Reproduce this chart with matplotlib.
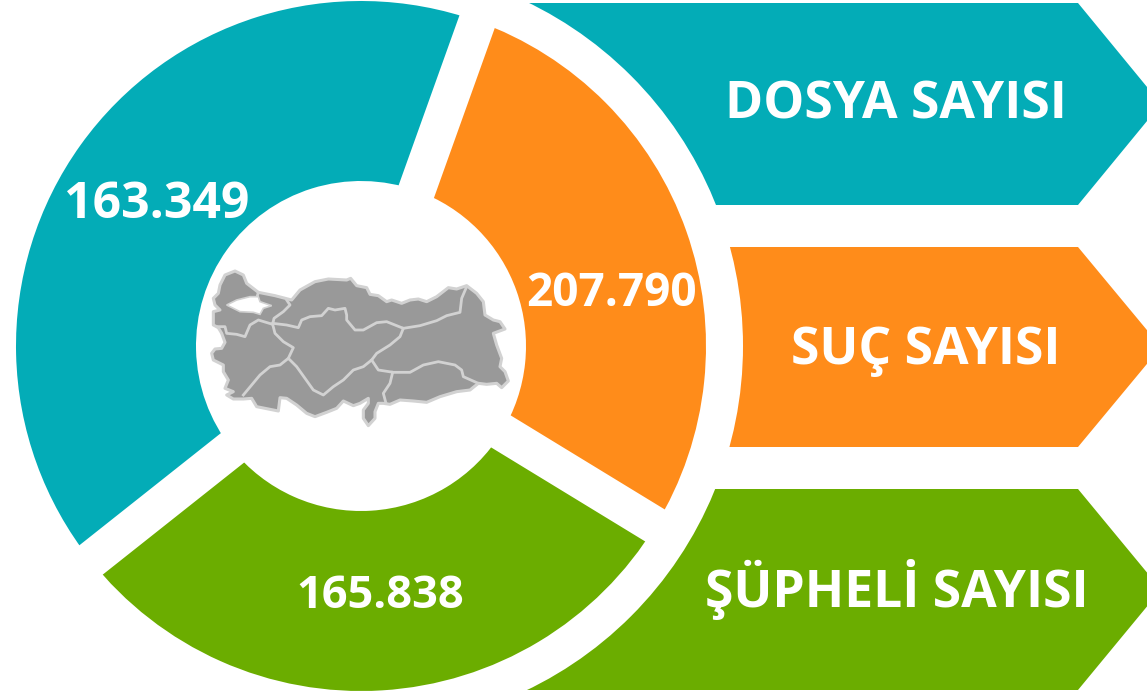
import matplotlib
matplotlib.use("Agg")
import matplotlib.pyplot as plt
import numpy as np
from matplotlib.patches import Circle, Polygon

plt.rcParams["font.family"] = ["Open Sans", "DejaVu Sans"]

# labels and values as printed on the picture
categories = ["DOSYA SAYISI", "ŞÜPHELİ SAYISI", "SUÇ SAYISI"]
value_labels = ["163.349", "165.838", "207.790"]
# arc of each slice in degrees, the slices are not drawn in proportion to the values
slice_spans = [148.1, 110.2, 101.7]
colors = ["#03ACB7", "#6BAD00", "#FF8C1A"]

# x centre, baseline y, font size
value_pos = [(156.5, 218, 36), (380, 608, 32.5), (612, 306, 33)]
title_pos = [(896, 118, 37.2), (897, 607, 37.2), (926, 364, 37.2)]
arrow_y = [(3, 205), (489, 690), (247, 447)]
arrow_left = [450, 450, 600]

CX, CY = 361, 346
R_OUT, R_IN = 345, 165
R_GAP = 382

# outline of Turkey, traced in px of a 3x crop
map_outline = [(75, 60), (105, 48), (130, 60), (140, 85), (175, 112), (225, 122), (275, 135), (300, 105),
               (345, 80), (385, 72), (440, 75), (452, 70), (470, 92), (500, 98), (510, 118), (535, 122),
               (560, 140), (575, 135), (605, 145), (630, 135), (655, 132), (680, 140), (710, 125), (745, 98),
               (770, 102), (800, 92), (830, 115), (850, 140), (855, 180), (880, 195), (900, 200), (915, 222),
               (880, 235), (890, 270), (905, 310), (900, 335), (915, 350), (925, 378), (905, 398), (890, 385),
               (860, 388), (835, 385), (810, 405), (770, 410), (720, 425), (680, 442), (640, 438), (600, 435),
               (570, 448), (550, 445), (535, 445), (525, 470), (525, 490), (505, 512), (490, 490), (490, 465),
               (505, 445), (505, 430), (480, 445), (460, 452), (430, 438), (410, 460), (380, 472), (345, 485),
               (320, 475), (290, 450), (260, 430), (240, 428), (235, 468), (205, 462), (170, 455), (155, 430),
               (130, 432), (100, 432), (80, 420), (100, 410), (75, 400), (85, 375), (70, 350), (70, 330),
               (40, 315), (35, 295), (45, 282), (65, 280), (75, 262), (65, 235), (55, 218), (40, 210),
               (40, 170), (60, 165), (45, 150), (40, 130), (55, 115), (60, 90)]
marmara = [(80, 150), (110, 135), (150, 125), (175, 125), (180, 140), (215, 152), (190, 160), (180, 178),
           (160, 172), (120, 170), (100, 160)]
map_borders = [
    [(260, 135), (270, 150), (250, 170), (222, 190), (218, 208), (225, 235), (250, 260), (280, 278), (265, 310)],
    [(218, 205), (260, 210), (295, 218), (305, 195), (330, 185), (365, 182), (385, 160), (405, 165), (435, 160),
     (440, 180), (440, 195), (465, 225), (490, 225), (530, 203), (560, 200), (610, 220), (660, 212), (710, 197),
     (740, 182), (780, 172), (785, 130), (800, 95)],
    [(610, 220), (600, 245), (570, 270), (530, 295), (515, 315), (490, 335), (460, 345), (430, 375), (400, 395),
     (370, 420), (340, 405), (315, 370), (290, 335), (265, 310), (240, 330), (210, 335), (180, 360), (130, 420)],
    [(515, 315), (535, 345), (580, 352), (630, 352), (670, 330), (715, 320), (765, 330), (785, 345), (790, 365),
     (835, 385)],
    [(578, 352), (570, 385), (550, 415), (558, 445)],
    [(218, 208), (175, 195), (150, 210), (135, 245), (110, 238), (80, 235), (75, 215), (55, 215)],
    [(175, 112), (170, 130)],
]


def map_xy(pts):
    return [(200 + x / 3, 255 + y / 3) for x, y in pts]


fig = plt.figure(figsize=(11.47, 6.94), dpi=100)
ax = fig.add_axes([0, 0, 1, 1])

# arrows, the white disc cuts their left side
for (y0, y1), left, c in zip(arrow_y, arrow_left, colors):
    pts = [(left, y0), (1078, y0), (1161, (y0 + y1) / 2), (1078, y1), (left, y1)]
    ax.add_patch(Polygon(pts, closed=True, facecolor=c, edgecolor="none", zorder=1))
ax.add_patch(Circle((CX, CY), R_GAP, facecolor="white", edgecolor="none", zorder=2))

# y axis is inverted so the slices run clockwise in data terms
wedges, _ = ax.pie(slice_spans, colors=colors, startangle=-70.3, counterclock=False,
                   radius=R_OUT, center=(CX, CY),
                   wedgeprops=dict(width=R_OUT - R_IN, edgecolor="none", zorder=3))

# white gaps between the slices
for a in -70.3 - np.cumsum([0] + slice_spans[:-1]):
    t = np.deg2rad(a)
    ax.plot([CX + 120 * np.cos(t), CX + 365 * np.cos(t)], [CY + 120 * np.sin(t), CY + 365 * np.sin(t)],
            color="white", lw=27, solid_capstyle="butt", zorder=4)

# map
ax.add_patch(Polygon(map_xy(map_outline), closed=True, facecolor="#999999", edgecolor="#d2d2d2", lw=2.2,
                     joinstyle="round", zorder=5))
for line in map_borders:
    xy = np.array(map_xy(line))
    ax.plot(xy[:, 0], xy[:, 1], color="#d2d2d2", lw=2.0, solid_joinstyle="round", zorder=6)
ax.add_patch(Polygon(map_xy(marmara), closed=True, facecolor="white", edgecolor="#d2d2d2", lw=1.2, zorder=7))

for (x, y, size), s in zip(value_pos, value_labels):
    ax.text(x, y, s, color="white", fontsize=size, fontweight="bold", ha="center", va="baseline", zorder=8)
for (x, y, size), s in zip(title_pos, categories):
    ax.text(x, y, s, color="white", fontsize=size, fontweight="bold", ha="center", va="baseline", zorder=8)

ax.set_aspect("equal")
ax.set_xlim(0, 1147)
ax.set_ylim(694, 0)
ax.axis("off")
fig.savefig("out.png", dpi=100, facecolor="white")
